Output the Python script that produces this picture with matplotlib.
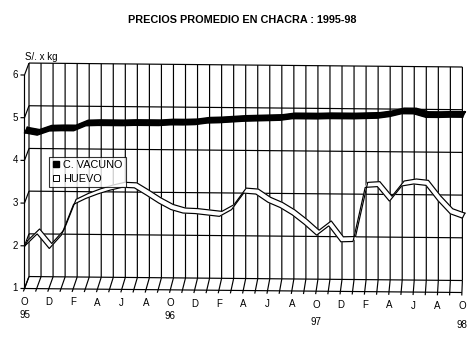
import numpy as np
import matplotlib
matplotlib.use("Agg")
import matplotlib.pyplot as plt
from matplotlib.transforms import Affine2D
from matplotlib.lines import Line2D
from matplotlib.collections import LineCollection

# ---------------- data ----------------
month_labels = ["O", "", "D", "", "F", "", "A", "", "J", "", "A", ""] * 3 + ["O"]
year_labels = ["95", "96", "97", "98"]
year_pos = [0, 12, 24, 36]
y_ticks = [1, 2, 3, 4, 5, 6]
series_names = ["C. VACUNO", "HUEVO"]

vacuno = [4.71, 4.66, 4.76, 4.77, 4.77, 4.89, 4.90, 4.90, 4.90, 4.91, 4.91, 4.91,
          4.93, 4.93, 4.94, 4.98, 4.99, 5.01, 5.03, 5.04, 5.05, 5.06, 5.10, 5.10,
          5.10, 5.11, 5.11, 5.11, 5.12, 5.13, 5.17, 5.24, 5.24, 5.16, 5.16, 5.17, 5.17]
huevo = [2.06, 2.34, 2.00, 2.32, 3.04, 3.18, 3.29, 3.38, 3.45, 3.44, 3.27, 3.09,
         2.94, 2.86, 2.85, 2.82, 2.79, 2.95, 3.34, 3.32, 3.13, 3.01, 2.84, 2.62,
         2.37, 2.59, 2.22, 2.23, 3.50, 3.52, 3.18, 3.54, 3.59, 3.56, 3.20, 2.90, 2.80]

# ---------------- layout / style ----------------
W, H = 477, 357
PX_I = 12.15      # pixels per month
PX_V = 42.7       # pixels per unit
X0 = 24.5         # pixel x of first month (front plane)
Y1 = 288.5        # pixel y (from top) of value 1 on front plane
TILT = 4.0        # pixel drop of the floor across the chart
DEPTH_Y = 12.0    # back wall offset (px up)
DEPTH_X0, DEPTH_X1 = 4.5, 0.5   # back wall offset (px right) at left / right
LW = 0.85
FONT = "Liberation Sans"

n = len(vacuno)
last = n - 1

fig = plt.figure(figsize=(W / 100, H / 100), dpi=100)
fig.patch.set_facecolor("white")
ax = fig.add_axes([0, 0, 1, 1])
ax.axis("off")
ax.set_xlim(-X0 / PX_I, (W - X0) / PX_I)
ax.set_ylim(1 - (H - Y1) / PX_V, 1 + Y1 / PX_V)

k = TILT / (PX_V * last)
T = Affine2D(np.array([[1.0, 0, 0], [-k, 1.0, 0], [0, 0, 1.0]])) + ax.transData


def back(i, v):
    i = float(i)
    dx = DEPTH_X0 + (DEPTH_X1 - DEPTH_X0) * i / last
    return i + dx / PX_I, float(v) + DEPTH_Y / PX_V


segments = []
# back wall horizontal gridlines
for v in y_ticks:
    segments.append([back(0, v), back(last, v)])
# back wall vertical gridlines
for i in range(n):
    segments.append([back(i, y_ticks[0]), back(i, y_ticks[-1])])
# left wall: front axis, ticks and connectors
segments.append([(0.0, y_ticks[0]), (0.0, y_ticks[-1])])
for v in y_ticks:
    segments.append([(0.0, v), back(0, v)])
    segments.append([(-4 / PX_I, v), (0.0, v)])
    ax.text(-6.5 / PX_I, v, str(v), transform=T, ha="right", va="center",
            fontsize=7, family=FONT)
# floor: front edge and slanted month ticks
segments.append([(0.0, 1.0), (float(last), 1.0)])
for i in range(n):
    bx, by = back(i, 1)
    dxi = bx - i
    segments.append([(i - dxi * 0.25, 1 - 0.25 * DEPTH_Y / PX_V), (bx, by)])
    if month_labels[i]:
        ax.text(i, 1 - 13.5 / PX_V, month_labels[i], transform=T, ha="center",
                va="center", fontsize=7, family=FONT)
year_drop = [27.0, 26.0, 31.0, 32.5]
for lab, p, d in zip(year_labels, year_pos, year_drop):
    ax.text(p, 1 - d / PX_V, lab, transform=T, ha="center", va="center",
            fontsize=7, family=FONT)

grid = LineCollection(segments, colors="black", linewidths=LW, transform=T,
                      zorder=1, snap=False, capstyle="butt")
ax.add_collection(grid, autolim=False)


# ---------------- series ribbons ----------------
def ribbon(vals, face, edge_lw, z):
    i = np.arange(len(vals), dtype=float)
    v = np.asarray(vals, dtype=float)
    half = 2.5 / PX_V
    lo_i, lo_v = i + 0.5 / PX_I, v - half
    up_i, up_v = i + 3.0 / PX_I, v + half
    for s in range(len(vals) - 1):
        ax.fill([lo_i[s], lo_i[s + 1], up_i[s + 1], up_i[s]],
                [lo_v[s], lo_v[s + 1], up_v[s + 1], up_v[s]],
                facecolor=face, edgecolor=face, linewidth=0.5,
                transform=T, zorder=z)
    for xs, ys in ((lo_i, lo_v), (up_i, up_v),
                   ([lo_i[0], up_i[0]], [lo_v[0], up_v[0]]),
                   ([lo_i[-1], up_i[-1]], [lo_v[-1], up_v[-1]])):
        ax.plot(xs, ys, color="black", lw=edge_lw, transform=T, zorder=z + 0.5,
                solid_joinstyle="miter", snap=False)


ribbon(vacuno, "black", 1.4, 3)
ribbon(huevo, "white", 0.85, 3)

# ---------------- texts ----------------
fig.text(242.5 / W, 1 - 20 / H, "PRECIOS PROMEDIO EN CHACRA : 1995-98",
         ha="center", va="center", fontsize=7.8, fontweight="bold", family=FONT)
fig.text(25 / W, 1 - 57 / H, "S/. x kg", ha="left", va="center", fontsize=7,
         family=FONT)

handles = [Line2D([], [], ls="none", marker="s", markersize=4.5,
                  markerfacecolor="black", markeredgecolor="black"),
           Line2D([], [], ls="none", marker="s", markersize=4.5,
                  markerfacecolor="white", markeredgecolor="black",
                  markeredgewidth=0.7)]
leg = fig.legend(handles, series_names, loc="upper left",
                 bbox_to_anchor=(49 / W, 1 - 157 / H), bbox_transform=fig.transFigure,
                 fancybox=False, shadow=False, frameon=True, borderaxespad=0,
                 prop={"family": FONT, "size": 7.8}, handlelength=0.7,
                 handletextpad=0.3, borderpad=0.3, labelspacing=0.35)
leg.get_frame().set_edgecolor("black")
leg.get_frame().set_linewidth(0.8)
leg.set_zorder(10)

fig.savefig("out.png", dpi=100, facecolor="white")
